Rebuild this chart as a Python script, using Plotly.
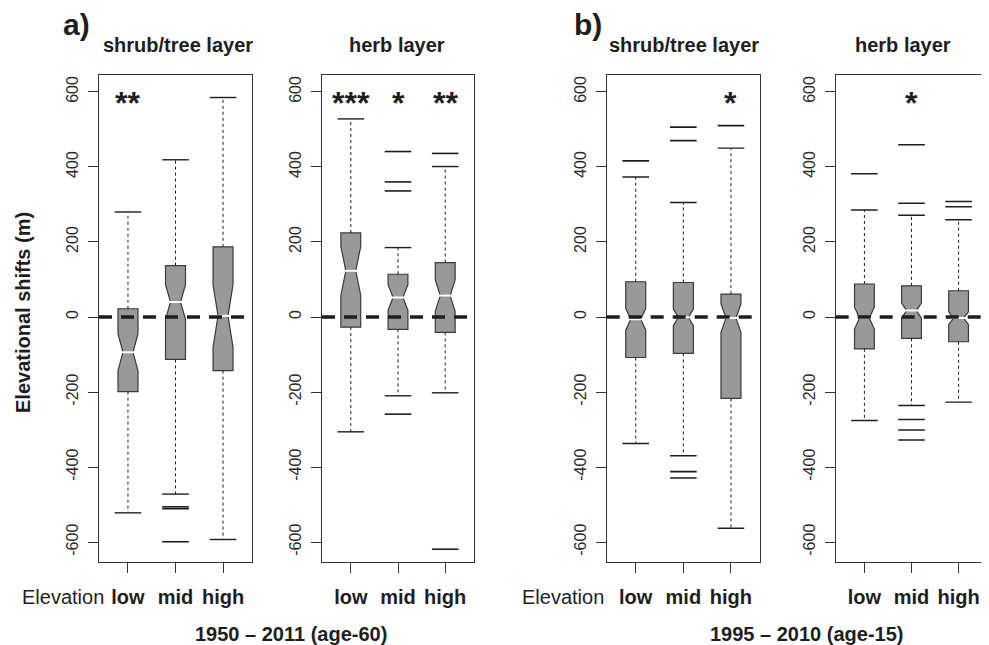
import plotly.graph_objects as go

# The page body has an 8px margin, so the figure is laid out in reference
# pixel coordinates shifted by OFF.
OFF = 8
W, H = 989 - OFF, 645 - OFF
FONT = "Liberation Sans, Arial, Helvetica, sans-serif"
INK = "#1e1e1e"

# ---------------- data ----------------
categories = ["low", "mid", "high"]
ytick_vals = [-600, -400, -200, 0, 200, 400, 600]
layer_titles = ["shrub/tree layer", "herb layer", "shrub/tree layer", "herb layer"]
period_labels = ["1950 – 2011 (age-60)", "1995 – 2010 (age-15)"]
panel_letters = ["a)", "b)"]

# 1950-2011, shrub/tree layer
shrub60_q1 = [-199, -113, -143]
shrub60_med = [-94, 40, 3]
shrub60_q3 = [22, 137, 187]
shrub60_lo = [-522, -472, -593]
shrub60_hi = [280, 419, 585]
shrub60_notch = [49, 46, 83]
shrub60_out = [[], [-506, -511, -599], []]
shrub60_stars = ["**", "", ""]

# 1950-2011, herb layer
herb60_q1 = [-27, -33, -41]
herb60_med = [123, 52, 57]
herb60_q3 = [224, 114, 145]
herb60_lo = [-306, -210, -202]
herb60_hi = [528, 185, 401]
herb60_notch = [65, 34, 42]
herb60_out = [[], [441, 360, 336, -259], [436, -619]]
herb60_stars = ["***", "*", "**"]

# 1995-2010, shrub/tree layer
shrub15_q1 = [-108, -97, -217]
shrub15_med = [-6, -1, -3]
shrub15_q3 = [94, 92, 61]
shrub15_lo = [-337, -370, -563]
shrub15_hi = [373, 305, 450]
shrub15_notch = [29, 22, 38]
shrub15_out = [[416], [506, 470, -412, -429], [510]]
shrub15_stars = ["", "", "*"]

# 1995-2010, herb layer
herb15_q1 = [-85, -57, -66]
herb15_med = [-3, 17, -3]
herb15_q3 = [88, 83, 70]
herb15_lo = [-276, -236, -227]
herb15_hi = [285, 271, 259]
herb15_notch = [29, 20, 17]
herb15_out = [[382], [459, 303, -273, -301, -328], [308, 294]]
herb15_stars = ["", "*", ""]

panels = [
    dict(q1=shrub60_q1, med=shrub60_med, q3=shrub60_q3, lo=shrub60_lo, hi=shrub60_hi,
         notch=shrub60_notch, out=shrub60_out, stars=shrub60_stars),
    dict(q1=herb60_q1, med=herb60_med, q3=herb60_q3, lo=herb60_lo, hi=herb60_hi,
         notch=herb60_notch, out=herb60_out, stars=herb60_stars),
    dict(q1=shrub15_q1, med=shrub15_med, q3=shrub15_q3, lo=shrub15_lo, hi=shrub15_hi,
         notch=shrub15_notch, out=shrub15_out, stars=shrub15_stars),
    dict(q1=herb15_q1, med=herb15_med, q3=herb15_q3, lo=herb15_lo, hi=herb15_hi,
         notch=herb15_notch, out=herb15_out, stars=herb15_stars),
]

# ---------------- layout geometry (reference pixels) ----------------
x_dom_px = [(99, 252), (322, 474), (606.7, 760), (835.7, 987.3)]
y_top_px, y_bot_px = 75, 562
YR = [-653, 645]
XR = [-0.61, 2.61]
BOXW = 0.42
STAR_Y = 571


def fx(px):
    return (px - OFF) / W


def fy(py):
    return 1 - (py - OFF) / H


fig = go.Figure()
layout_axes = {}
annotations = []
shapes = []

for i, p in enumerate(panels):
    n = "" if i == 0 else str(i + 1)
    xa, ya = "x" + n, "y" + n
    pos = list(range(len(categories)))

    fig.add_trace(go.Box(
        x=pos, q1=p["q1"], median=p["med"], q3=p["q3"],
        lowerfence=p["q1"], upperfence=p["q3"],
        notched=True, notchspan=p["notch"], notchwidth=0.25,
        width=BOXW, fillcolor="#999999",
        line=dict(color="#3a3a3a", width=1.2),
        boxpoints=False, hoverinfo="skip", showlegend=False,
        xaxis=xa, yaxis=ya,
    ))

    # dotted whiskers
    wx, wy = [], []
    for j in pos:
        wx += [j, j, None, j, j, None]
        wy += [p["q3"][j], p["hi"][j], None, p["q1"][j], p["lo"][j], None]
    fig.add_trace(go.Scatter(
        x=wx, y=wy, mode="lines", line=dict(color=INK, width=1, dash="dot"),
        hoverinfo="skip", showlegend=False, xaxis=xa, yaxis=ya))

    # whisker caps
    fig.add_trace(go.Scatter(
        x=pos + pos, y=p["hi"] + p["lo"], mode="markers",
        marker=dict(symbol="line-ew", size=19, line=dict(color=INK, width=1.4)),
        hoverinfo="skip", showlegend=False, xaxis=xa, yaxis=ya))

    # outliers as horizontal dashes
    ox, oy = [], []
    for j in pos:
        for v in p["out"][j]:
            ox.append(j)
            oy.append(v)
    if ox:
        fig.add_trace(go.Scatter(
            x=ox, y=oy, mode="markers",
            marker=dict(symbol="line-ew", size=19, line=dict(color=INK, width=1.6)),
            hoverinfo="skip", showlegend=False, xaxis=xa, yaxis=ya))

    # white medians
    fig.add_trace(go.Scatter(
        x=pos, y=p["med"], mode="markers",
        marker=dict(symbol="line-ew", size=9, line=dict(color="white", width=2)),
        hoverinfo="skip", showlegend=False, xaxis=xa, yaxis=ya))

    # dashed zero line
    shapes.append(dict(type="line", xref=xa + " domain", yref=ya, x0=0, x1=1, y0=0, y1=0,
                       line=dict(color=INK, width=3.5, dash="13px,9px"), layer="above"))

    # significance stars
    for j, s in enumerate(p["stars"]):
        if s:
            annotations.append(dict(x=j, y=STAR_Y, xref=xa, yref=ya, text=s, showarrow=False,
                                    font=dict(family=FONT, size=32, color=INK, weight="bold"),
                                    xanchor="center", yanchor="middle"))

    x0, x1 = x_dom_px[i]
    layout_axes["xaxis" + n] = dict(
        domain=[fx(x0), fx(x1)], range=XR, anchor=ya,
        tickmode="array", tickvals=pos, ticktext=categories,
        ticks="outside", ticklen=10, tickwidth=1.2, tickcolor="#333",
        showline=True, mirror=True, linecolor="#333", linewidth=1.3,
        showgrid=False, zeroline=False, ticklabelstandoff=7,
        tickfont=dict(family=FONT, size=20, color=INK, weight="bold"),
    )
    layout_axes["yaxis" + n] = dict(
        domain=[fy(y_bot_px), fy(y_top_px)], range=YR, anchor=xa,
        tickmode="array", tickvals=ytick_vals, ticktext=[str(v) for v in ytick_vals],
        ticks="outside", ticklen=10, tickwidth=1.2, tickcolor="#333",
        tickangle=-90, ticklabelstandoff=3,
        showline=True, mirror=True, linecolor="#333", linewidth=1.3,
        showgrid=False, zeroline=False,
        tickfont=dict(family=FONT, size=16, color="#2a2a2a"),
    )


def px_ann(text, xpx, ypx, size, bold=True, angle=0):
    return dict(text=text, x=fx(xpx), y=fy(ypx), xref="paper", yref="paper",
                showarrow=False, textangle=angle, xanchor="center", yanchor="middle",
                font=dict(family=FONT, size=size, color=INK, weight="bold" if bold else "normal"))


title_centers = [178, 397, 684, 903]
for t, cxp in zip(layer_titles, title_centers):
    annotations.append(px_ann(t, cxp, 45, 20))
for t, cxp in zip(panel_letters, [76.5, 587.5]):
    annotations.append(px_ann(t, cxp, 24, 30))
for cxp in [63, 563]:
    annotations.append(px_ann("Elevation", cxp, 597, 20, bold=False))
for t, cxp in zip(period_labels, [291, 806]):
    annotations.append(px_ann(t, cxp, 634, 20))
annotations.append(px_ann("Elevational shifts (m)", 23, 313, 20, angle=-90))

fig.update_layout(
    width=W, height=H, margin=dict(l=0, r=0, t=0, b=0),
    paper_bgcolor="white", plot_bgcolor="white",
    showlegend=False, annotations=annotations, shapes=shapes,
    font=dict(family=FONT, color=INK),
    **layout_axes,
)

fig.write_html("out.html")
